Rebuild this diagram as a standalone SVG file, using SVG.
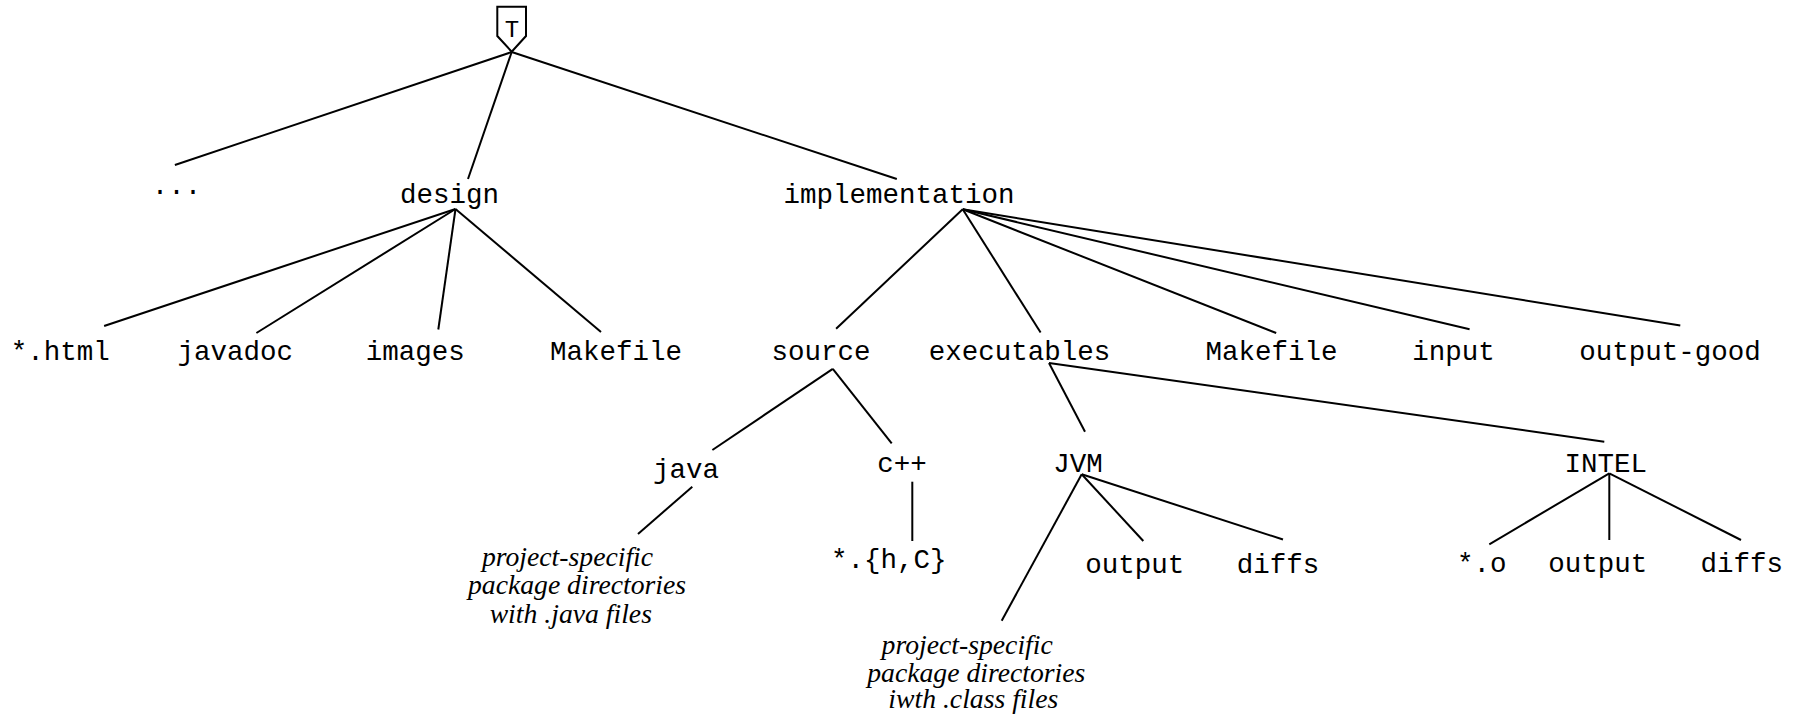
<svg xmlns="http://www.w3.org/2000/svg" width="1796" height="718" viewBox="0 0 1796 718">
  <style>
    .bg { fill: #ffffff; }
    .m { font-family: "Liberation Mono", "Courier New", monospace; font-size: 27.5px; fill: #000; text-anchor: middle; }
    .it { font-family: "Liberation Serif", "Times New Roman", serif; font-style: italic; font-size: 27.7px; fill: #000; text-anchor: middle; }
    .root-label { font-family: "Liberation Mono", "Courier New", monospace; font-size: 24px; fill: #000; text-anchor: middle; }
    .edge { stroke: #000; stroke-width: 2; fill: none; stroke-linecap: butt; }
    .tag { stroke: #000; stroke-width: 2; fill: #fff; stroke-linejoin: miter; }
  </style>

  <rect class="bg" x="0" y="0" width="1796" height="718"/>

  <!-- tree edges -->
  <g id="connectors">
    <!-- root -->
    <line class="edge" x1="511.7" y1="52" x2="174.9" y2="165"/>
    <line class="edge" x1="511.7" y1="52" x2="468" y2="179"/>
    <line class="edge" x1="511.7" y1="52" x2="896.8" y2="179"/>
    <!-- design -->
    <line class="edge" x1="455.5" y1="209" x2="104.1" y2="326"/>
    <line class="edge" x1="455.5" y1="209" x2="256.4" y2="333"/>
    <line class="edge" x1="455.5" y1="209" x2="438.3" y2="329.5"/>
    <line class="edge" x1="455.5" y1="209" x2="601" y2="332"/>
    <!-- implementation -->
    <line class="edge" x1="962.7" y1="209.3" x2="836.1" y2="328.7"/>
    <line class="edge" x1="962.7" y1="209.3" x2="1040.6" y2="332.5"/>
    <line class="edge" x1="962.7" y1="209.3" x2="1276.2" y2="333"/>
    <line class="edge" x1="962.7" y1="209.3" x2="1469.6" y2="329.3"/>
    <line class="edge" x1="962.7" y1="209.3" x2="1680.3" y2="325.5"/>
    <!-- source -->
    <line class="edge" x1="832.8" y1="368.8" x2="712.4" y2="450"/>
    <line class="edge" x1="832.8" y1="368.8" x2="891.7" y2="443.3"/>
    <!-- executables -->
    <line class="edge" x1="1049" y1="363" x2="1085" y2="431.7"/>
    <line class="edge" x1="1049" y1="363" x2="1604.3" y2="441.7"/>
    <!-- java -->
    <line class="edge" x1="692.3" y1="486.7" x2="638" y2="534"/>
    <!-- c++ -->
    <line class="edge" x1="912.3" y1="481.7" x2="912.3" y2="541"/>
    <!-- JVM -->
    <line class="edge" x1="1081.7" y1="474.3" x2="1001.7" y2="620.7"/>
    <line class="edge" x1="1081.7" y1="474.3" x2="1143.3" y2="541"/>
    <line class="edge" x1="1081.7" y1="474.3" x2="1283" y2="539.5"/>
    <!-- INTEL -->
    <line class="edge" x1="1609.3" y1="473.3" x2="1489.3" y2="544.3"/>
    <line class="edge" x1="1609.3" y1="473.3" x2="1609.3" y2="540"/>
    <line class="edge" x1="1609.3" y1="473.3" x2="1741" y2="540"/>
  </g>

  <!-- root tag -->
  <g id="root">
    <polygon class="tag" points="497.3,6.7 526,6.7 526,36 511.7,51.7 497.3,36"/>
    <text class="root-label" x="512" y="37">T</text>
  </g>

  <!-- level 1 -->
  <g id="etc"><text class="m" x="176.4" y="193.5">...</text></g>
  <g id="design"><text class="m" x="449.6" y="203">design</text></g>
  <g id="implementation"><text class="m" x="899" y="203">implementation</text></g>

  <!-- level 2 -->
  <g id="design-html"><text class="m" x="60.3" y="360">*.html</text></g>
  <g id="design-javadoc"><text class="m" x="235.3" y="360">javadoc</text></g>
  <g id="design-images"><text class="m" x="415.2" y="360">images</text></g>
  <g id="design-makefile"><text class="m" x="615.9" y="360">Makefile</text></g>
  <g id="source"><text class="m" x="821.1" y="360">source</text></g>
  <g id="executables"><text class="m" x="1019.5" y="360">executables</text></g>
  <g id="impl-makefile"><text class="m" x="1271.6" y="360">Makefile</text></g>
  <g id="impl-input"><text class="m" x="1453.5" y="360">input</text></g>
  <g id="impl-output-good"><text class="m" x="1670.1" y="360">output-good</text></g>

  <!-- level 3 -->
  <g id="java"><text class="m" x="686" y="478">java</text></g>
  <g id="cpp"><text class="m" x="902" y="471.7">c++</text></g>
  <g id="jvm"><text class="m" x="1078" y="471.7">JVM</text></g>
  <g id="intel"><text class="m" x="1605.8" y="471.7">INTEL</text></g>

  <!-- level 4 -->
  <g id="java-packages">
    <text class="it" x="567.5" y="566">project-specific</text>
    <text class="it" x="577" y="594.3">package directories</text>
    <text class="it" x="570.8" y="623.3">with .java files</text>
  </g>
  <g id="cpp-files"><text class="m" x="888.7" y="568">*.{h,C}</text></g>
  <g id="jvm-packages">
    <text class="it" x="967.2" y="654">project-specific</text>
    <text class="it" x="976.3" y="681.7">package directories</text>
    <text class="it" x="973.3" y="708.3">iwth .class files</text>
  </g>
  <g id="jvm-output"><text class="m" x="1134.7" y="572.7">output</text></g>
  <g id="jvm-diffs"><text class="m" x="1278" y="572.7">diffs</text></g>
  <g id="intel-objects"><text class="m" x="1481.7" y="571.7">*.o</text></g>
  <g id="intel-output"><text class="m" x="1597.8" y="571.7">output</text></g>
  <g id="intel-diffs"><text class="m" x="1741.7" y="571.7">diffs</text></g>
</svg>
